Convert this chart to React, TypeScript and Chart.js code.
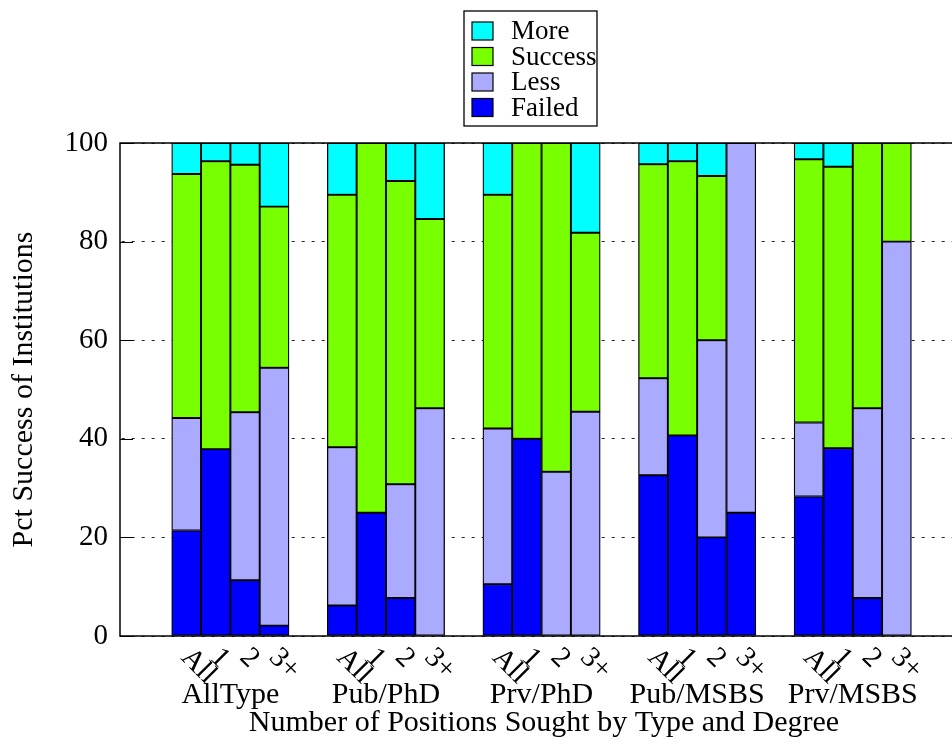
import React, { useEffect, useRef } from 'react';
import { Chart, registerables } from 'chart.js';

Chart.register(...registerables);

// ---- data ----
const groups = ['AllType', 'Pub/PhD', 'Prv/PhD', 'Pub/MSBS', 'Prv/MSBS'];
const barLabels = ['All', '1', '2', '3+'];

// values per bar (5 groups x 4 bars: All, 1, 2, 3+)
const failed = [21.4, 37.9, 11.3, 2.1, 6.2, 25.0, 7.7, 0, 10.5, 40.0, 0, 0, 32.6, 40.7, 20.0, 25.0, 28.3, 38.1, 7.7, 0];
const less = [22.8, 0, 34.1, 52.3, 32.1, 0, 23.1, 46.2, 31.6, 0, 33.3, 45.5, 19.7, 0, 40.0, 75.0, 15.0, 0, 38.5, 80.0];
const success = [49.5, 58.4, 50.2, 32.7, 51.2, 75.0, 61.5, 38.4, 47.4, 60.0, 66.7, 36.3, 43.4, 55.6, 33.3, 0, 53.4, 57.1, 53.8, 20.0];
const more = [6.3, 3.7, 4.4, 12.9, 10.5, 0, 7.7, 15.4, 10.5, 0, 0, 18.2, 4.3, 3.7, 6.7, 0, 3.3, 4.8, 0, 0];

const seriesNames = ['Failed', 'Less', 'Success', 'More'];
const seriesColors = ['#0000FF', '#AAAAFF', '#78FF00', '#00FFFF'];
const yTicks = [0, 20, 40, 60, 80, 100];

const xTitle = 'Number of Positions Sought by Type and Degree';
const yTitle = 'Pct Success of Institutions';

// ---- layout constants ----
const GROUP_GAP = 1.305;
const X_MIN = -2.263;
const X_MAX = 26.65;
const FONT = '"Liberation Serif", "Times New Roman", serif';

const xPos = (i: number) => Math.floor(i / 4) * (4 + GROUP_GAP) + (i % 4);
const groupCenter = (g: number) => g * (4 + GROUP_GAP) + 1.5;

const framePlugin = {
  id: 'frame',
  afterDatasetsDraw(chart: any) {
    const { ctx, chartArea: a } = chart;
    const y = chart.scales.y;
    ctx.save();
    ctx.strokeStyle = '#000';
    ctx.lineWidth = 1.5;
    ctx.strokeRect(a.left, a.top, a.right - a.left, a.bottom - a.top);
    ctx.lineWidth = 1;
    yTicks.forEach((t) => {
      const py = Math.round(y.getPixelForValue(t)) + 0.5;
      ctx.beginPath();
      ctx.moveTo(a.left, py);
      ctx.lineTo(a.left + 13, py);
      ctx.moveTo(a.right, py);
      ctx.lineTo(a.right - 13, py);
      ctx.stroke();
    });
    ctx.restore();
  },
};

const barLabelPlugin = {
  id: 'barLabels',
  afterDraw(chart: any) {
    const { ctx } = chart;
    const x = chart.scales.x;
    ctx.save();
    ctx.fillStyle = '#000';
    ctx.font = `29px ${FONT}`;
    ctx.textAlign = 'left';
    ctx.textBaseline = 'middle';
    for (let i = 0; i < failed.length; i++) {
      const px = x.getPixelForValue(xPos(i));
      ctx.save();
      ctx.translate(px - 1, 653);
      ctx.rotate(Math.PI / 4);
      ctx.fillText(barLabels[i % 4], 0, 0);
      ctx.restore();
    }
    ctx.restore();
  },
};

const legendPlugin = {
  id: 'boxLegend',
  afterDraw(chart: any) {
    const { ctx } = chart;
    const left = 464, top = 11, w = 133, h = 115;
    ctx.save();
    ctx.strokeStyle = '#000';
    ctx.lineWidth = 1.3;
    ctx.strokeRect(left, top, w, h);
    ctx.font = `27px ${FONT}`;
    ctx.textAlign = 'left';
    ctx.textBaseline = 'middle';
    const order = [3, 2, 1, 0];
    order.forEach((di, row) => {
      const ds = chart.data.datasets[di];
      const cy = 31 + row * 25.5;
      ctx.fillStyle = ds.backgroundColor;
      ctx.fillRect(472, cy - 9, 21, 18);
      ctx.strokeStyle = '#000';
      ctx.lineWidth = 1.2;
      ctx.strokeRect(472, cy - 9, 21, 18);
      ctx.fillStyle = '#000';
      ctx.fillText(ds.label, 511, cy + 1);
    });
    ctx.restore();
  },
};

export default function App() {
  const ref = useRef<HTMLCanvasElement | null>(null);

  useEffect(() => {
    document.body.style.margin = '0';
    const series = [failed, less, success, more];
    const chart = new Chart(ref.current as HTMLCanvasElement, {
      type: 'bar',
      data: {
        datasets: series.map((vals, si) => ({
          label: seriesNames[si],
          data: vals.map((v, i) => ({ x: xPos(i), y: v })),
          backgroundColor: seriesColors[si],
          borderColor: '#000',
          borderWidth: 1.3,
          borderSkipped: false,
          barPercentage: 1,
          categoryPercentage: 1,
        })),
      },
      options: {
        animation: false,
        responsive: false,
        devicePixelRatio: 1,
        layout: { padding: { left: 0, top: 143, right: 0, bottom: 0 } },
        plugins: { legend: { display: false }, tooltip: { enabled: false } },
        scales: {
          x: {
            type: 'linear',
            stacked: true,
            min: X_MIN,
            max: X_MAX,
            offset: false,
            bounds: 'data',
            grid: { display: false, drawTicks: false },
            border: { display: false },
            afterBuildTicks: (axis: any) => {
              axis.ticks = groups.map((_, g) => ({ value: groupCenter(g) }));
            },
            afterFit: (axis: any) => {
              axis.height = 115;
            },
            ticks: {
              autoSkip: false,
              maxRotation: 0,
              minRotation: 0,
              padding: 41,
              color: '#000',
              font: { family: FONT, size: 30 },
              callback: (_v: any, i: number) => groups[i],
            },
            title: {
              display: true,
              text: xTitle,
              color: '#000',
              font: { family: FONT, size: 30 },
              padding: { top: 0, bottom: 10 },
            },
          },
          y: {
            stacked: true,
            min: 0,
            max: 100,
            afterBuildTicks: (axis: any) => {
              axis.ticks = yTicks.map((v) => ({ value: v }));
            },
            afterFit: (axis: any) => {
              axis.width = 120;
            },
            grid: { color: '#222', lineWidth: 1, drawTicks: false },
            border: { display: false, dash: [3, 7], dashOffset: 8.3 },
            ticks: {
              padding: 12,
              color: '#000',
              font: { family: FONT, size: 29 },
            },
            title: {
              display: true,
              text: yTitle,
              color: '#000',
              font: { family: FONT, size: 30 },
              padding: { top: 6.5, bottom: 0 },
            },
          },
        },
      } as any,
      plugins: [framePlugin, barLabelPlugin, legendPlugin],
    });
    return () => chart.destroy();
  }, []);

  return (
    <div style={{ position: 'absolute', left: 0, top: 0, width: 952, height: 751, overflow: 'hidden', background: '#fff' }}>
      <canvas ref={ref} width={968} height={751} style={{ display: 'block' }} />
    </div>
  );
}
